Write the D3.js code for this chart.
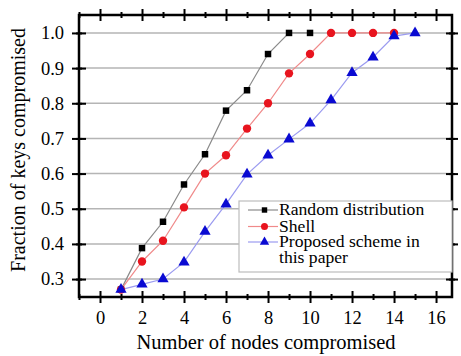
<!DOCTYPE html>
<html>
<head>
<meta charset="utf-8">
<script src="https://cdn.jsdelivr.net/npm/d3@7"></script>
<style>
  body { margin: 0; background: #fff; }
  svg, svg text { font-family: "Liberation Serif", "Times New Roman", serif; }
</style>
</head>
<body>
<div id="chart"></div>
<script>
const nodes = [1, 2, 3, 4, 5, 6, 7, 8, 9, 10, 11, 12, 13, 14, 15];
const randomDist = [0.27, 0.388, 0.463, 0.569, 0.655, 0.779, 0.837, 0.94, 1.0, 1.0];
const shell = [0.27, 0.35, 0.409, 0.504, 0.60, 0.652, 0.728, 0.80, 0.885, 0.94, 1.0, 1.0, 1.0, 1.0];
const proposed = [0.27, 0.285, 0.30, 0.348, 0.435, 0.513, 0.598, 0.652, 0.698, 0.743, 0.809, 0.887, 0.931, 0.991, 1.0];
const xTicks = [0, 2, 4, 6, 8, 10, 12, 14, 16];
const yTicks = [0.3, 0.4, 0.5, 0.6, 0.7, 0.8, 0.9, 1.0];

const W = 461, H = 356;
const margin = { top: 15, right: 9, bottom: 59, left: 79 };
const width = W - margin.left - margin.right;
const height = H - margin.top - margin.bottom;

const svg = d3.select('#chart').append('svg')
  .attr('width', W).attr('height', H);
const g = svg.append('g').attr('transform', `translate(${margin.left},${margin.top})`);

const x = d3.scaleLinear().domain([-1, 16.76]).range([0, width]);
const y = d3.scaleLinear().domain([0.249, 1.051]).range([height, 0]);

// grid
g.selectAll('.grid').data(yTicks).enter().append('line')
  .attr('x1', 0).attr('x2', width)
  .attr('y1', d => y(d)).attr('y2', d => y(d))
  .attr('stroke', '#b5b5b5').attr('stroke-width', 1.5);

// axes
const minorX = d3.range(-1, 17, 1).filter(v => v % 2 !== 0);
const minorY = d3.range(0.25, 1.051, 0.05).filter((v, i) => i % 2 === 1);

function styleAxis(sel) {
  sel.attr('font-family', null);
  sel.select('.domain').remove();
  sel.selectAll('line').attr('stroke', '#000').attr('stroke-width', 2);
  sel.selectAll('text').attr('font-size', 18.5).attr('fill', '#000');
}

const axBottom = g.append('g').attr('transform', `translate(0,${height})`)
  .call(d3.axisBottom(x).tickValues(xTicks).tickSizeInner(6).tickSizeOuter(0).tickPadding(8).tickFormat(d3.format('d')));
axBottom.selectAll('.tick line').attr('y1', -6);
styleAxis(axBottom);
const axBottomMinor = g.append('g').attr('transform', `translate(0,${height})`)
  .call(d3.axisBottom(x).tickValues(minorX).tickSize(3).tickFormat(''));
axBottomMinor.selectAll('.tick line').attr('y1', -3);
styleAxis(axBottomMinor);

const axTop = g.append('g')
  .call(d3.axisTop(x).tickValues(xTicks).tickSize(6).tickFormat(''));
axTop.selectAll('.tick line').attr('y1', 6);
styleAxis(axTop);
const axTopMinor = g.append('g')
  .call(d3.axisTop(x).tickValues(minorX).tickSize(3).tickFormat(''));
axTopMinor.selectAll('.tick line').attr('y1', 3);
styleAxis(axTopMinor);

const axLeft = g.append('g')
  .call(d3.axisLeft(y).tickValues(yTicks).tickSize(7).tickPadding(8).tickFormat(d3.format('.1f')));
axLeft.selectAll('.tick line').attr('x1', 7);
styleAxis(axLeft);
const axLeftMinor = g.append('g')
  .call(d3.axisLeft(y).tickValues(minorY).tickSize(3).tickFormat(''));
axLeftMinor.selectAll('.tick line').attr('x1', 3);
styleAxis(axLeftMinor);

const axRight = g.append('g').attr('transform', `translate(${width},0)`)
  .call(d3.axisRight(y).tickValues(yTicks).tickSize(6).tickFormat(''));
axRight.selectAll('.tick line').attr('x1', -6);
styleAxis(axRight);
const axRightMinor = g.append('g').attr('transform', `translate(${width},0)`)
  .call(d3.axisRight(y).tickValues(minorY).tickSize(3).tickFormat(''));
axRightMinor.selectAll('.tick line').attr('x1', -3);
styleAxis(axRightMinor);

// frame
g.append('rect').attr('width', width).attr('height', height)
  .attr('fill', 'none').attr('stroke', '#000').attr('stroke-width', 2.5);

// series
const series = [
  { name: 'Random distribution', values: randomDist, line: '#8a8a8a', color: '#000', shape: d3.symbolSquare, size: 42 },
  { name: 'Shell', values: shell, line: '#f08a8a', color: '#e8141e', shape: d3.symbolCircle, size: 55 },
  { name: 'Proposed scheme in', name2: 'this paper', values: proposed, line: '#9b9bf0', color: '#0a0ad2', shape: d3.symbolTriangle, size: 55 }
];

const line = d3.line().x((d, i) => x(nodes[i])).y(d => y(d));
series.forEach(s => {
  g.append('path').datum(s.values)
    .attr('d', line).attr('fill', 'none')
    .attr('stroke', s.line).attr('stroke-width', 1.2);
});
series.forEach(s => {
  g.selectAll(null).data(s.values).enter().append('path')
    .attr('transform', (d, i) => `translate(${x(nodes[i])},${y(d)})`)
    .attr('d', d3.symbol().type(s.shape).size(s.size))
    .attr('fill', s.color);
});

// legend (text slightly widened to match the original's stretched look)
const lg = svg.append('g').attr('transform', 'translate(239,201)');
lg.append('rect').attr('width', 213).attr('height', 71)
  .attr('fill', '#fff').attr('stroke', '#bdbdbd').attr('stroke-width', 1.2);
const rows = [14, 30.5, 46];
function legendText(str, yy) {
  const t = lg.append('text').attr('x', 40).attr('y', yy).attr('font-size', 16).text(str);
  const len = t.node().getComputedTextLength();
  t.attr('textLength', len * 1.1).attr('lengthAdjust', 'spacingAndGlyphs');
}
series.forEach((s, i) => {
  const ry = rows[i] - 5;
  lg.append('line').attr('x1', 9).attr('x2', 39).attr('y1', ry).attr('y2', ry)
    .attr('stroke', s.line).attr('stroke-width', 1.2);
  lg.append('path').attr('transform', `translate(25.5,${ry})`)
    .attr('d', d3.symbol().type(s.shape).size(s.size * 0.7)).attr('fill', s.color);
  legendText(s.name, rows[i]);
  if (s.name2) legendText(s.name2, rows[i] + 15.5);
});

// axis titles
svg.append('text').attr('x', 266).attr('y', 349).attr('text-anchor', 'middle')
  .attr('font-size', 20.5).text('Number of nodes compromised');
svg.append('text').attr('transform', 'translate(25,150) rotate(-90)').attr('text-anchor', 'middle')
  .attr('font-size', 20).text('Fraction of keys compromised');
</script>
</body>
</html>
